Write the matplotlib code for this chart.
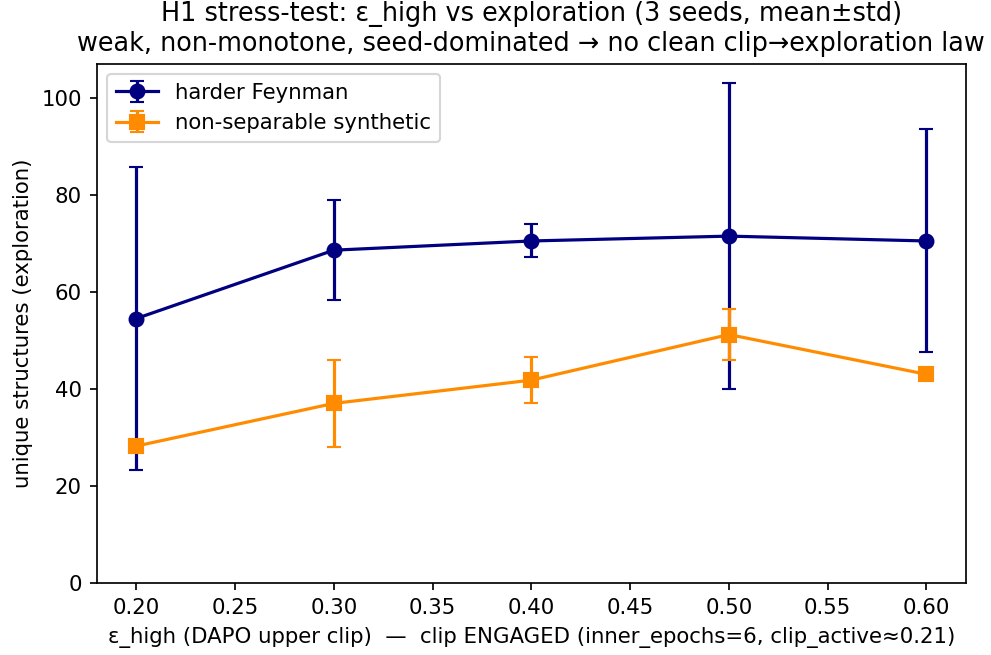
import numpy as np
import matplotlib
matplotlib.use("Agg")
import matplotlib.pyplot as plt

# epsilon_high values (x axis)
eps_high = [0.20, 0.30, 0.40, 0.50, 0.60]

# harder Feynman: mean / std of unique structures over 3 seeds
feyn_mean = [54.6, 68.7, 70.6, 71.6, 70.6]
feyn_std = [31.2, 10.3, 3.4, 31.6, 23.0]

# non-separable synthetic
synth_mean = [28.3, 37.1, 41.9, 51.3, 43.1]
synth_std = [1.2, 8.9, 4.7, 5.2, 0.3]

title = ("H1 stress-test: ε_high vs exploration (3 seeds, mean±std)\n"
         "weak, non-monotone, seed-dominated → no clean clip→exploration law")
xlabel = "ε_high (DAPO upper clip)  —  clip ENGAGED (inner_epochs=6, clip_active≈0.21)"
ylabel = "unique structures (exploration)"

DPI = 153
fig = plt.figure(figsize=(991 / DPI, 655 / DPI), dpi=DPI)
ax = fig.add_axes([96.7 / 991, 1 - 583.3 / 655, (966 - 96.7) / 991, (583.3 - 63.5) / 655])

ax.errorbar(eps_high, feyn_mean, yerr=feyn_std, marker="o", markersize=6.5,
            color="navy", capsize=3.5, label="harder Feynman")
ax.errorbar(eps_high, synth_mean, yerr=synth_std, marker="s", markersize=6.5,
            color="darkorange", capsize=3.5, label="non-separable synthetic")

ax.set_xlim(0.18, 0.62)
ax.set_ylim(0, 107.2)
ax.set_xticks(np.arange(0.20, 0.601, 0.05))
ax.set_xticklabels([f"{t:.2f}" for t in np.arange(0.20, 0.601, 0.05)])
ax.set_xlabel(xlabel)
ax.set_ylabel(ylabel)
ax.set_title(title, fontsize=12)
ax.legend(loc="upper left")

fig.savefig("out.png", dpi=DPI)
